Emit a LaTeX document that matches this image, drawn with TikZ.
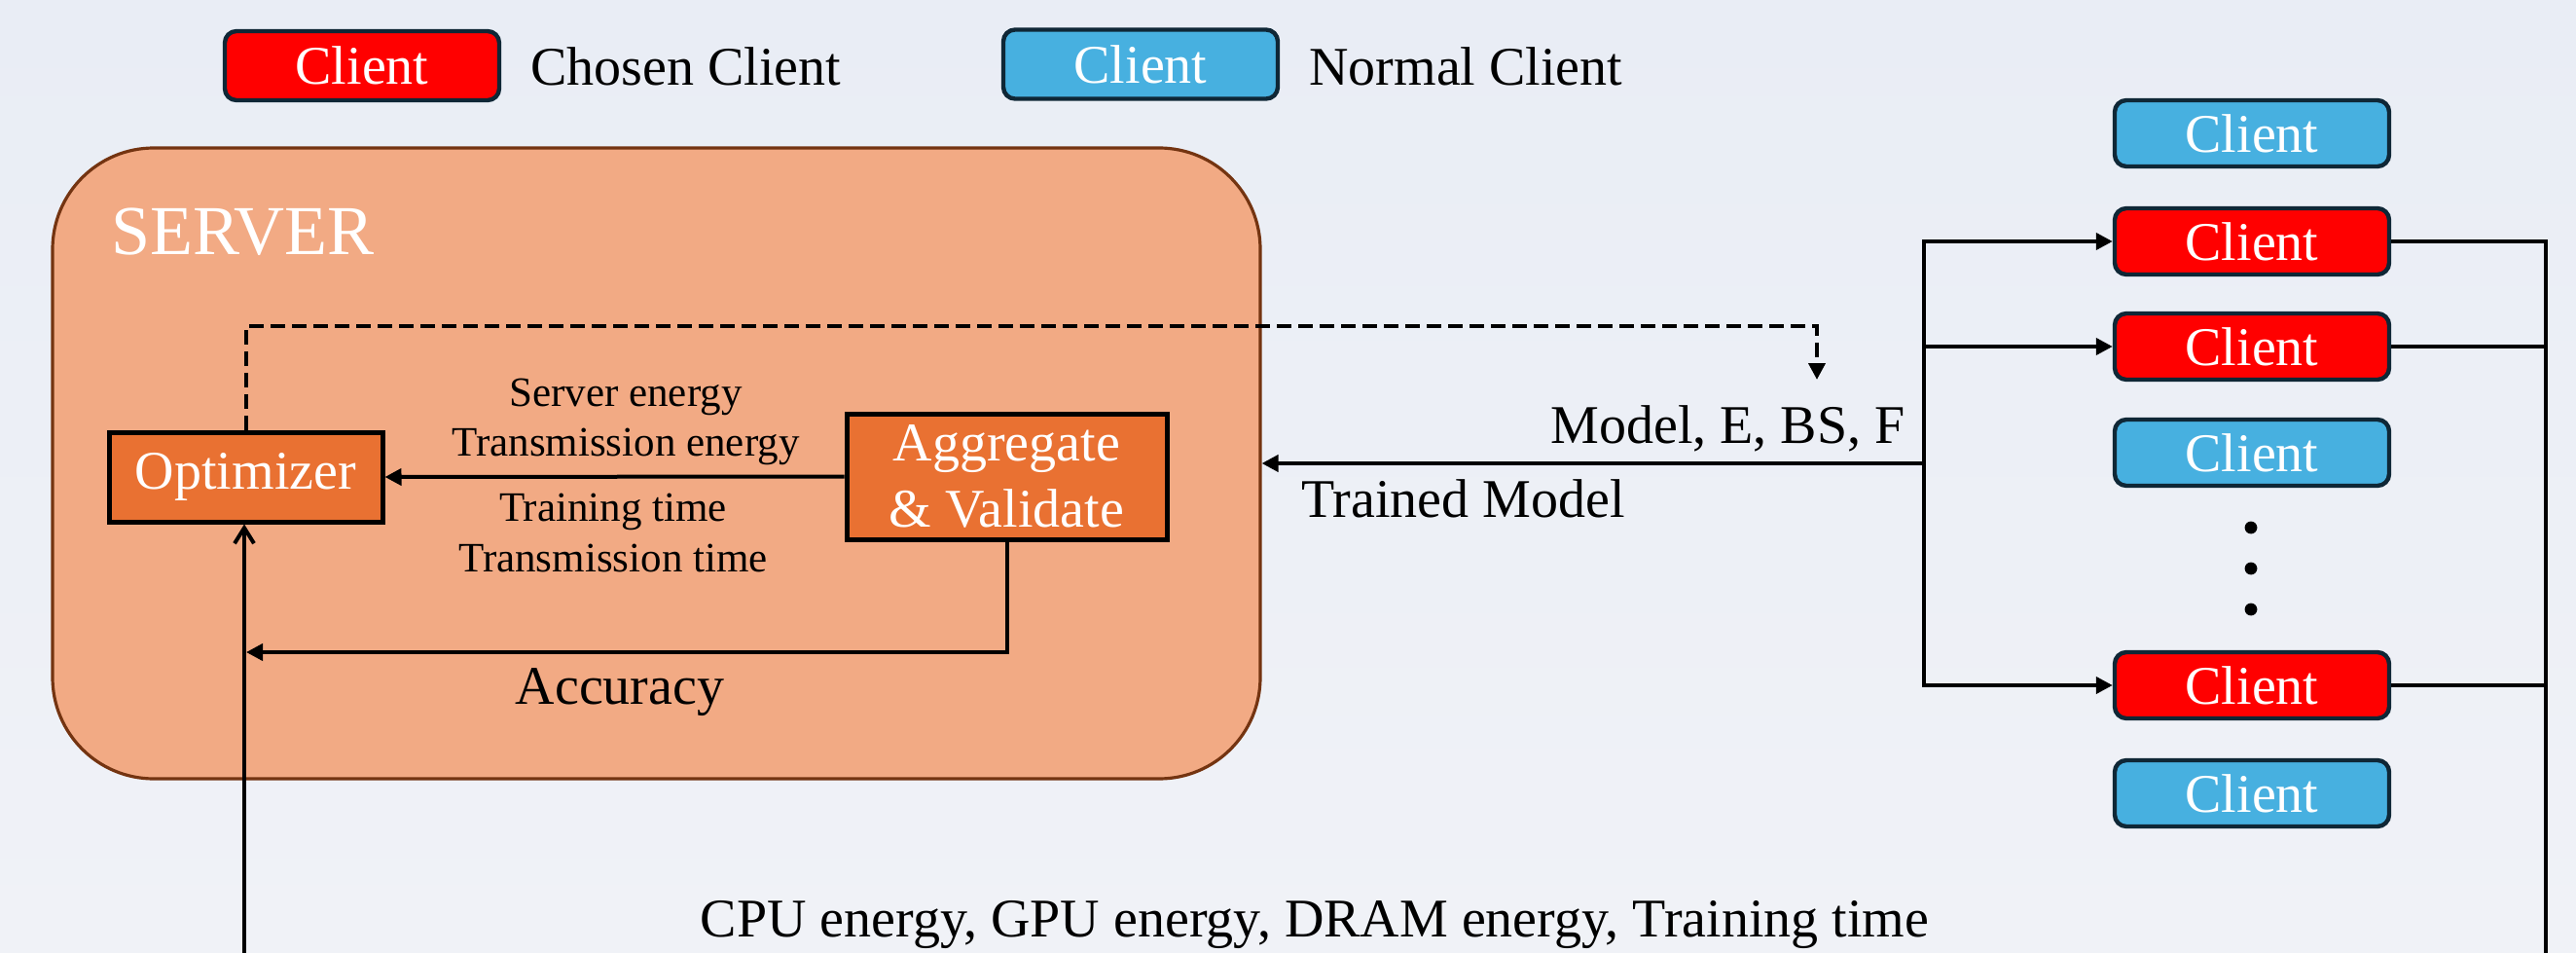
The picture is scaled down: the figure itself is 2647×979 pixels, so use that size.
\documentclass[tikz,border=0pt]{standalone}
\usepackage{fontspec}
\setmainfont{Liberation Serif}
\usetikzlibrary{arrows.meta}
\definecolor{bgtop}{HTML}{F0F2F7}
\definecolor{bgbot}{HTML}{E9EDF5}
\definecolor{serverfill}{HTML}{F2AA84}
\definecolor{serverdraw}{HTML}{743411}
\definecolor{orangebox}{HTML}{E97132}
\definecolor{chosen}{HTML}{FF0000}
\definecolor{normal}{HTML}{47B0E0}
\definecolor{clientdraw}{HTML}{0F2736}
\begin{document}
\begin{tikzpicture}[x=0.5pt,y=-0.5pt,
  big/.style={font=\fontsize{28}{34}\selectfont},
  small/.style={font=\fontsize{21.5}{26}\selectfont},
  clientbox/.style={draw=clientdraw, line width=2.2pt, rounded corners=6pt, minimum width=141pt, minimum height=34pt, inner sep=0pt, text=white, big},
  chosenbox/.style={clientbox, fill=chosen},
  normalbox/.style={clientbox, fill=normal},
  procbox/.style={draw=black, line width=2.5pt, fill=orangebox, text=white, inner sep=0pt, big, align=center},
  conn/.style={line width=2pt},
  arr/.style={conn, -{Triangle[length=8.5pt,width=8.5pt]}},
  dasharr/.style={conn, dash pattern=on 7.5pt off 3.5pt, -{Triangle[length=8.5pt,width=8.5pt]}},
  openarr/.style={conn, -{Straight Barb[length=8pt,width=10pt,line width=2pt]}},
  lbl/.style={anchor=base, inner sep=0pt},
]
\useasboundingbox (0,0) rectangle (2647,979);
\shade[top color=bgbot, bottom color=bgtop] (0,0) rectangle (2647,979);

% legend
\node[chosenbox, minimum height=35.5pt] (lc) at (372,67.5) {Client};
\node[big, anchor=base west, inner sep=0pt] (lct) at (545,88) {Chosen Client};
\node[normalbox, minimum height=35.5pt] (ln) at (1172,66) {Client};
\node[big, anchor=base west, inner sep=0pt] (lnt) at (1345,88) {Normal Client};

% server
\node[draw=serverdraw, fill=serverfill, line width=1.6pt, rounded corners=52pt,
      minimum width=620.5pt, minimum height=324pt, inner sep=0pt] (server) at (674.5,476) {};
\node[anchor=base west, inner sep=0pt, text=white, font=\fontsize{36}{40}\selectfont] (stitle) at (114,261) {SERVER};

\node[procbox, minimum width=140.5pt, minimum height=46pt] (opt) at (252.5,490) {Optimizer};
\node[procbox, minimum width=164.5pt, minimum height=64.5pt] (agg) at (1034.5,489.5) {Aggregate\\\& Validate};

\draw[arr] (agg.west) -- (opt.east);
\node[small, lbl] (l1) at (643,417) {Server energy};
\node[small, lbl] (l2) at (643,468) {Transmission energy};
\node[small, lbl] (l3) at (630,535) {Training time};
\node[small, lbl] (l4) at (630,587) {Transmission time};

\coordinate (acc) at (253,670);
\draw[arr] (agg.south) |- (acc);
\node[big, lbl] (acct) at (637,723) {Accuracy};

% dashed
\coordinate (dtop) at (1867,335);
\coordinate (dend) at (1867,390);
\draw[dasharr] (opt.north) |- (dtop) -- (dend);

% clients
\node[normalbox] (c1) at (2314,137) {Client};
\node[chosenbox] (c2) at (2314,248) {Client};
\node[chosenbox] (c3) at (2314,356) {Client};
\node[normalbox] (c4) at (2314,465) {Client};
\node[chosenbox] (c5) at (2314,704) {Client};
\node[normalbox] (c6) at (2314,815) {Client};
\fill (2313,542) circle[radius=3.2pt];
\fill (2313,584) circle[radius=3.2pt];
\fill (2313,626) circle[radius=3.2pt];

\coordinate (junc) at (1977,476);
\draw[arr] (junc) |- (c2.west);
\draw[arr] (junc) |- (c3.west);
\draw[arr] (junc) |- (c5.west);
\draw[arr] (junc) -- (junc -| server.east);
\node[big, anchor=base east, inner sep=0pt] (mdl) at (1958,455) {Model, E, BS, F};
\node[big, anchor=base west, inner sep=0pt] (trn) at (1337,531) {Trained Model};

\coordinate (rbot) at (2616,979);
\coordinate (lbot) at (251,979);
\draw[conn] (c2.east) -| (rbot);
\draw[conn] (c3.east) -- (c3.east -| rbot);
\draw[conn] (c5.east) -- (c5.east -| rbot);
\draw[openarr] (lbot) -- (opt.south -| lbot);

\node[big, lbl] (cpu) at (1351,962) {CPU energy, GPU energy, DRAM energy, Training time};
\end{tikzpicture}
\end{document}
